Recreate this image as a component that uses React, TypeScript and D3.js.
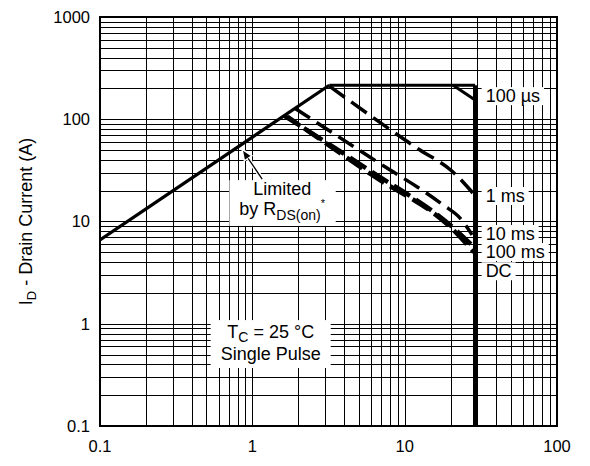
import * as d3 from 'd3';
import { useEffect, useRef } from 'react';

type Pt = [number, number];

// axis decades
const xTicks = [0.1, 1, 10, 100];
const yTicks = [0.1, 1, 10, 100, 1000];

// safe operating area boundaries (V_DS, I_D)
const rdsLimit: Pt[] = [[0.1, 6.6], [3.2, 215]];
const flatTop: Pt[] = [[3.2, 215], [29, 215]];
const dcEdge: Pt[] = [[29, 215], [29, 0.1]];
const pulse100us: Pt[] = [[20.8, 215], [29, 154]];
const pulse1ms: Pt[] = [[3.2, 211], [12.6, 50], [20.5, 31], [25, 23], [28, 19]];
const pulse10ms: Pt[] = [[1.9, 128], [5.9, 42.7], [17.9, 14.5], [23.1, 10.8], [27.7, 7.4]];
const pulse100ms: Pt[] = [[1.62, 108], [5.9, 31.5], [21, 8.6], [27.5, 5.9]];
const dcLine: Pt[] = [[1.7, 106], [6, 29], [21.5, 7.9], [28.5, 5]];

// curve labels: [text, x, baseline y]
const curveLabels: [string, number, number][] = [
  ['100 µs', 34, 147],
  ['1 ms', 34, 15.5],
  ['10 ms', 34, 6.6],
  ['100 ms', 34, 4.4],
  ['DC', 34, 2.85]
];

const FONT = '"Liberation Sans", Arial, Helvetica, sans-serif';

const SoaChart = () => {
  const ref = useRef<SVGSVGElement | null>(null);

  useEffect(() => {
    if (!ref.current) return;
    const svg = d3.select(ref.current);
    svg.selectAll('*').remove();

    const width = 590;
    const height = 466;
    const left = 100, right = 557, top = 17, bottom = 426;

    svg.attr('width', width).attr('height', height).style('font-family', FONT);

    const x = d3.scaleLog().domain([0.1, 100]).range([left, right]);
    const y = d3.scaleLog().domain([0.1, 1000]).range([bottom, top]);

    svg.append('rect').attr('width', width).attr('height', height).attr('fill', '#fff');

    // grid: 1..9 per decade
    const minor = (lo: number, hi: number) => {
      const out: number[] = [];
      for (let d = lo; d < hi; d *= 10) for (let k = 1; k < 10; k++) out.push(d * k);
      out.push(hi);
      return out;
    };
    const grid = svg.append('g').attr('stroke', '#000').attr('stroke-width', 1).attr('shape-rendering', 'crispEdges');
    minor(0.1, 100).forEach(v => {
      grid.append('line').attr('x1', Math.round(x(v)) + 0.5).attr('x2', Math.round(x(v)) + 0.5).attr('y1', top).attr('y2', bottom);
    });
    minor(0.1, 1000).forEach(v => {
      grid.append('line').attr('y1', Math.round(y(v)) + 0.5).attr('y2', Math.round(y(v)) + 0.5).attr('x1', left).attr('x2', right);
    });

    svg.append('clipPath').attr('id', 'plot-clip')
      .append('rect').attr('x', left).attr('y', top).attr('width', right - left).attr('height', bottom - top);

    const line = d3.line<Pt>().x(d => x(d[0])).y(d => y(d[1])).curve(d3.curveMonotoneX);
    const straight = d3.line<Pt>().x(d => x(d[0])).y(d => y(d[1]));
    const curves = svg.append('g').attr('clip-path', 'url(#plot-clip)').attr('fill', 'none').attr('stroke', '#000');

    curves.append('path').attr('d', straight(rdsLimit)).attr('stroke-width', 3.2);
    curves.append('path').attr('d', straight(flatTop)).attr('stroke-width', 3.2);
    curves.append('path').attr('d', straight(dcEdge)).attr('stroke-width', 4.2);
    curves.append('path').attr('d', straight(pulse100us)).attr('stroke-width', 3);
    curves.append('path').attr('d', line(pulse1ms)).attr('stroke-width', 3.5).attr('stroke-dasharray', '19 8');
    curves.append('path').attr('d', line(pulse10ms)).attr('stroke-width', 3.5).attr('stroke-dasharray', '18 8');
    curves.append('path').attr('d', line(pulse100ms)).attr('stroke-width', 4.5).attr('stroke-dasharray', '19 7');
    curves.append('path').attr('d', line(dcLine)).attr('stroke-width', 4.5).attr('stroke-dasharray', '19 7').attr('stroke-dashoffset', 6);

    // frame
    svg.append('rect').attr('x', left).attr('y', top).attr('width', right - left).attr('height', bottom - top)
      .attr('fill', 'none').attr('stroke', '#000').attr('stroke-width', 2);

    // tick labels
    svg.append('g').selectAll('text').data(xTicks).enter().append('text')
      .attr('x', d => x(d)).attr('y', 452).attr('text-anchor', 'middle').attr('font-size', 16.5)
      .text(d => String(d));
    svg.append('g').selectAll('text').data(yTicks).enter().append('text')
      .attr('x', 90).attr('y', d => y(d)).attr('dy', '0.35em').attr('text-anchor', 'end').attr('font-size', 16.5)
      .text(d => String(d));

    // y title
    const title = svg.append('text').attr('transform', `translate(32,${(top + bottom) / 2}) rotate(-90)`)
      .attr('text-anchor', 'middle').attr('font-size', 18);
    title.append('tspan').text('I');
    title.append('tspan').attr('font-size', 13).attr('dy', 4).text('D');
    title.append('tspan').attr('dy', -4).text(' - Drain Current (A)');

    // annotation boxes with white backgrounds
    const boxed = (build: (g: d3.Selection<SVGGElement, unknown, null, undefined>) => void, px: number, pyTop: number, pyBot: number) => {
      const g = svg.append('g').attr('font-size', 18);
      build(g);
      const bb = (g.node() as SVGGElement).getBBox();
      g.insert('rect', ':first-child')
        .attr('x', bb.x - px).attr('y', bb.y - pyTop)
        .attr('width', bb.width + 2 * px).attr('height', bb.height + pyTop + pyBot)
        .attr('fill', '#fff');
    };

    curveLabels.forEach(([t, lx, ly]) => {
      boxed(g => {
        g.append('text').attr('x', x(lx)).attr('y', y(ly)).text(t);
      }, 4, -1, -1);
    });

    const limX = x(1.57);
    boxed(g => {
      g.append('text').attr('x', limX).attr('y', y(18.1)).attr('text-anchor', 'middle').text('Limited');
      const t2 = g.append('text').attr('x', limX).attr('y', y(11.6)).attr('text-anchor', 'middle');
      t2.append('tspan').text('by R');
      t2.append('tspan').attr('font-size', 14).attr('dy', 5).text('DS(on)');
      t2.append('tspan').attr('font-size', 11).attr('dy', -13).text('*');
    }, 10, -1, 3);

    const tcX = x(1.32);
    boxed(g => {
      const t1 = g.append('text').attr('x', tcX).attr('y', y(0.724)).attr('text-anchor', 'middle');
      t1.append('tspan').text('T');
      t1.append('tspan').attr('font-size', 14).attr('dy', 4).text('C');
      t1.append('tspan').attr('dy', -4).text(' = 25 °C');
      g.append('text').attr('x', tcX).attr('y', y(0.442)).attr('text-anchor', 'middle').text('Single Pulse');
    }, 10, 2, 4);

    // arrow pointing at the R_DS(on) limit
    const tail: Pt = [x(1.16), y(26)];
    const tip: Pt = [x(0.855), y(51)];
    const ang = Math.atan2(tip[1] - tail[1], tip[0] - tail[0]);
    const hl = 11, hw = 4.5;
    const base: Pt = [tip[0] - hl * Math.cos(ang), tip[1] - hl * Math.sin(ang)];
    const nx = -Math.sin(ang), ny = Math.cos(ang);
    const head = [tip, [base[0] + hw * nx, base[1] + hw * ny], [base[0] - hw * nx, base[1] - hw * ny]];
    const arrow = svg.append('g');
    arrow.append('line').attr('x1', tail[0]).attr('y1', tail[1]).attr('x2', base[0]).attr('y2', base[1])
      .attr('stroke', '#fff').attr('stroke-width', 4);
    arrow.append('polygon').attr('points', head.map(p => p.join(',')).join(' '))
      .attr('fill', '#000').attr('stroke', '#fff').attr('stroke-width', 1.5);
    arrow.append('line').attr('x1', tail[0]).attr('y1', tail[1]).attr('x2', base[0]).attr('y2', base[1])
      .attr('stroke', '#000').attr('stroke-width', 1.3);
  }, []);

  return <svg ref={ref} style={{ position: 'absolute', left: 0, top: 0 }} />;
};

export default function App() {
  return <SoaChart />;
}
